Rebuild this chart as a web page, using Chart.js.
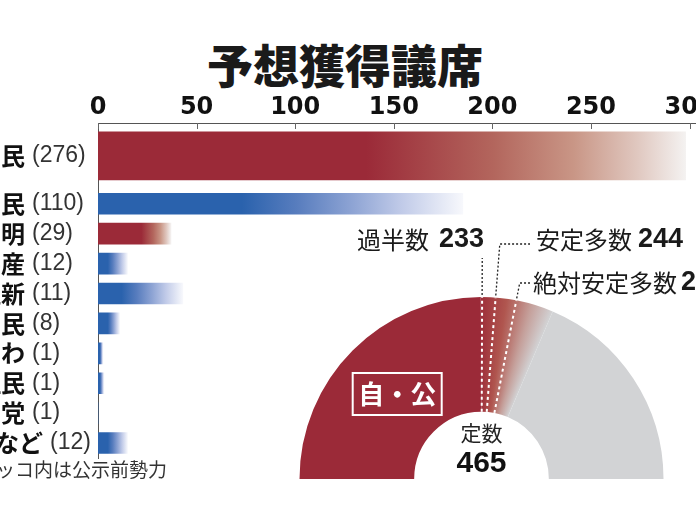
<!DOCTYPE html>
<html lang="ja">
<head>
<meta charset="UTF-8">
<meta name="viewport" content="width=device-width, initial-scale=1.0">
<title>予想獲得議席</title>
<style>
  html, body { margin: 0; padding: 0; background: #fff; }
  body { width: 696px; height: 522px; position: relative; overflow: hidden; }
  #title {
    position: absolute; left: 0; top: 40px; width: 690px; margin: 0;
    text-align: center; color: #1a1a1a;
    font: 900 46px/46px "Noto Sans CJK JP", sans-serif;
  }
  #barWrap { position: absolute; left: -100px; top: 0; width: 836px; height: 522px; }
  #donutWrap { position: absolute; left: 290px; top: 220px; width: 460px; height: 302px; }
</style>
</head>
<body>
<h1 id="title">予想獲得議席</h1>
<div id="barWrap"><canvas id="seatBars"></canvas></div>
<div id="donutWrap"><canvas id="seatDonut"></canvas></div>

<script src="https://cdn.jsdelivr.net/npm/chart.js"></script>
<script>
    // parties, seats before the election (in brackets) and forecast range
    const parties = ['自民', '立民', '公明', '共産', '維新', '国民', 'れいわ', '社民', 'N党', '無所属など'];
    const seatsBefore = [276, 110, 29, 12, 11, 8, 1, 1, 1, 12];
    const forecastLow = [136, 73, 22, 5, 12, 5, 1, 1, 0, 5];
    const forecastHigh = [298, 185, 37, 15, 43, 11, 2.5, 3, 0, 15];
    const rulingParties = ['自民', '公明'];
    const xTicks = [0, 50, 100, 150, 200, 250, 300];

    // half donut
    const totalSeats = 465;
    const coalitionLow = 232;
    const coalitionHigh = 292;
    const lineSeats = [233, 244, 261];
    const lineNames = ['過半数', '安定多数', '絶対安定多数'];

    const RED = '#9b2a38';
    const BLUE = '#2a62ad';
    const GRAY = '#d2d3d5';

    const fadeStops = {
        red: [[0, RED], [0.4, '#b3665d'], [0.65, '#c99686'], [0.85, '#e0c8c0'], [1, '#f4f2f1']],
        blue: [[0, BLUE], [0.25, '#587dbe'], [0.5, '#8ea4d4'], [0.72, '#c0cae8'], [1, '#f7f8fc']]
    };

    // the last row label sits a little further right in the original
    const labelShift = { '無所属など': 18 };

    function fadeFill(offset) {
        return function (c) {
            const i = offset + (c.dataIndex || 0);
            const stops = fadeStops[rulingParties.includes(parties[i]) ? 'red' : 'blue'];
            const chart = c.chart;
            const x = chart.scales.x;
            if (!chart.chartArea || !x) return stops[0][1];
            const x0 = x.getPixelForValue(forecastLow[i]);
            const x1 = x.getPixelForValue(forecastHigh[i]);
            if (x1 - x0 < 1) return stops[0][1];
            const g = chart.ctx.createLinearGradient(x0, 0, x1, 0);
            stops.forEach(s => g.addColorStop(s[0], s[1]));
            return g;
        };
    }

    const barDecor = {
        id: 'barDecor',
        afterDraw(chart) {
            const { ctx, chartArea: a, scales } = chart;
            ctx.save();
            // short ticks pointing into the plot
            ctx.strokeStyle = '#666';
            ctx.lineWidth = 1;
            scales.x.ticks.forEach((t, k) => {
                const px = Math.round(scales.x.getPixelForTick(k)) + 0.5;
                ctx.beginPath();
                ctx.moveTo(px, a.top);
                ctx.lineTo(px, a.top + 6);
                ctx.stroke();
            });
            // row labels: name + (seats before)
            ctx.textBaseline = 'middle';
            ['yTop', 'yBottom'].forEach(id => {
                const s = scales[id];
                s.getLabels().forEach((name, k) => {
                    const py = s.getPixelForValue(k);
                    const i = parties.indexOf(name);
                    const dx = labelShift[name] || 0;
                    ctx.fillStyle = '#111';
                    ctx.font = 'bold 24px "Noto Sans CJK JP"';
                    ctx.textAlign = 'right';
                    ctx.fillText(name, a.left - 73 + dx, py);
                    ctx.fillStyle = '#333';
                    ctx.font = '23px "Liberation Sans"';
                    ctx.textAlign = 'left';
                    ctx.fillText('(' + seatsBefore[i] + ')', a.left - 66 + dx, py);
                });
            });
            ctx.fillStyle = '#333';
            ctx.font = '19px "Noto Sans CJK JP"';
            ctx.textAlign = 'right';
            ctx.fillText('カッコ内は公示前勢力', a.left + 69, a.bottom + 12);
            ctx.restore();
        }
    };

    new Chart(document.getElementById('seatBars'), {
        type: 'bar',
        data: {
            datasets: [
                { data: forecastHigh.slice(0, 1), yAxisID: 'yTop', barThickness: 48, backgroundColor: fadeFill(0) },
                { data: forecastHigh.slice(1), yAxisID: 'yBottom', barThickness: 21, backgroundColor: fadeFill(1) }
            ]
        },
        options: {
            indexAxis: 'y',
            responsive: true,
            maintainAspectRatio: false,
            animation: false,
            events: [],
            layout: { padding: { left: 198, right: 34.6, top: 92.2, bottom: 64 } },
            datasets: { bar: { grouped: false, borderWidth: 0 } },
            plugins: { legend: { display: false }, tooltip: { enabled: false } },
            scales: {
                x: {
                    position: 'top',
                    min: 0,
                    max: 306,
                    afterBuildTicks: s => { s.ticks = xTicks.map(v => ({ value: v })); },
                    afterFit: s => { s.paddingLeft = 0; s.paddingRight = 0; },
                    grid: { display: false, drawTicks: false },
                    border: { color: '#555', width: 1 },
                    ticks: { padding: 1, color: '#111', font: { family: 'DejaVu Sans', weight: 'bold', size: 24 } }
                },
                // stacked scales are placed bottom-up, so the lower block comes first
                yBottom: {
                    type: 'category',
                    labels: parties.slice(1),
                    position: 'left',
                    stack: 'rows',
                    stackWeight: 270,
                    offset: true,
                    afterFit: s => { s.width = 0; s.paddingTop = 0; s.paddingBottom = 0; },
                    grid: { display: false, drawTicks: false },
                    border: { color: '#555', width: 1 },
                    ticks: { display: false }
                },
                yTop: {
                    type: 'category',
                    labels: parties.slice(0, 1),
                    position: 'left',
                    stack: 'rows',
                    stackWeight: 66,
                    offset: true,
                    afterFit: s => { s.width = 0; s.paddingTop = 0; s.paddingBottom = 0; },
                    grid: { display: false, drawTicks: false },
                    border: { color: '#555', width: 1 },
                    ticks: { display: false }
                }
            }
        },
        plugins: [barDecor]
    });

    function donutFill(c) {
        if (c.dataIndex === 2) return GRAY;
        if (c.dataIndex !== 1) return RED;
        const chart = c.chart;
        const a = chart.chartArea;
        const ctrl = chart.getDatasetMeta(0).controller;
        if (!a || ctrl.offsetX === undefined) return RED;
        const cx = (a.left + a.right) / 2 + ctrl.offsetX;
        const cy = (a.top + a.bottom) / 2 + ctrl.offsetY;
        const start = -Math.PI + coalitionLow / totalSeats * Math.PI;
        const span = (coalitionHigh - coalitionLow) / totalSeats / 2;
        const g = chart.ctx.createConicGradient(start, cx, cy);
        g.addColorStop(0, '#9e2f3a');
        g.addColorStop(span * 0.35, '#b0564f');
        g.addColorStop(span * 0.7, '#c5a09b');
        g.addColorStop(span, GRAY);
        g.addColorStop(1, GRAY);
        return g;
    }

    // leader lines: rise = height above the centre where the dotted line stops
    const leaders = [
        { rise: 221, elbow: null, textX: 2.5, textY: -239, align: 'right', gap: 10 },
        { rise: 235, elbow: 48.5, textX: 54.5, textY: -239, align: 'left', gap: 6 },
        { rise: 196, elbow: 48.5, textX: 51.5, textY: -196, align: 'left', gap: 4 }
    ];

    const donutDecor = {
        id: 'donutDecor',
        afterDraw(chart) {
            const { ctx } = chart;
            const arc = chart.getDatasetMeta(0).data[0];
            const cx = arc.x, cy = arc.y, R = arc.outerRadius, r = arc.innerRadius;
            ctx.save();

            lineSeats.forEach((v, k) => {
                const ang = -Math.PI + v / totalSeats * Math.PI;
                const ux = Math.cos(ang), uy = Math.sin(ang);
                ctx.setLineDash([3, 3]);
                ctx.strokeStyle = '#fff';
                ctx.lineWidth = 2;
                ctx.beginPath();
                ctx.moveTo(cx + ux * r, cy + uy * r);
                ctx.lineTo(cx + ux * R, cy + uy * R);
                ctx.stroke();

                const L = leaders[k];
                const endR = L.rise / -uy;
                const ex = cx + ux * endR, ey = cy + uy * endR;
                ctx.setLineDash([2, 2]);
                ctx.strokeStyle = '#222';
                ctx.lineWidth = 1.3;
                ctx.beginPath();
                ctx.moveTo(cx + ux * (R + 2), cy + uy * (R + 2));
                ctx.lineTo(ex, ey);
                if (L.elbow !== null) ctx.lineTo(cx + L.elbow, ey);
                ctx.stroke();

                // label
                ctx.setLineDash([]);
                ctx.textBaseline = 'middle';
                const num = String(v);
                const ty = cy + L.textY;
                const nameFont = '24px "Noto Sans CJK JP"';
                const numFont = 'bold 27px "Liberation Sans"';
                ctx.fillStyle = '#1a1a1a';
                if (L.align === 'right') {
                    ctx.font = numFont;
                    ctx.textAlign = 'right';
                    ctx.fillText(num, cx + L.textX, ty);
                    const w = ctx.measureText(num).width;
                    ctx.font = nameFont;
                    ctx.fillText(lineNames[k], cx + L.textX - w - L.gap, ty);
                } else {
                    ctx.font = nameFont;
                    ctx.textAlign = 'left';
                    ctx.fillText(lineNames[k], cx + L.textX, ty);
                    const w = ctx.measureText(lineNames[k]).width;
                    ctx.font = numFont;
                    ctx.fillText(num, cx + L.textX + w + L.gap, ty);
                }
            });

            // coalition tag in the middle of the red part
            const p = arc.getCenterPoint();
            ctx.strokeStyle = '#fff';
            ctx.lineWidth = 2;
            ctx.strokeRect(p.x - 40.5, p.y - 18, 89, 42);
            ctx.fillStyle = '#fff';
            ctx.font = 'bold 26px "Noto Sans CJK JP"';
            ctx.textAlign = 'center';
            ctx.textBaseline = 'middle';
            ctx.fillText('自・公', p.x + 4, p.y + 3);

            // centre
            ctx.fillStyle = '#222';
            ctx.font = '21px "Noto Sans CJK JP"';
            ctx.fillText('定数', cx, cy - 46);
            ctx.fillStyle = '#111';
            ctx.font = 'bold 30px "Liberation Sans"';
            ctx.fillText(String(totalSeats), cx, cy - 15);
            ctx.restore();
        }
    };

    new Chart(document.getElementById('seatDonut'), {
        type: 'doughnut',
        data: {
            labels: ['自・公', '自・公（幅）', 'その他'],
            datasets: [{
                data: [coalitionLow, coalitionHigh - coalitionLow, totalSeats - coalitionHigh],
                backgroundColor: donutFill,
                borderWidth: 0
            }]
        },
        options: {
            responsive: true,
            maintainAspectRatio: false,
            animation: false,
            events: [],
            rotation: -90,
            circumference: 180,
            cutout: '37%',
            layout: { padding: { left: 9.5, right: 86.5, top: 77, bottom: 43 } },
            plugins: { legend: { display: false }, tooltip: { enabled: false } }
        },
        plugins: [donutDecor]
    });
</script>
</body>
</html>
